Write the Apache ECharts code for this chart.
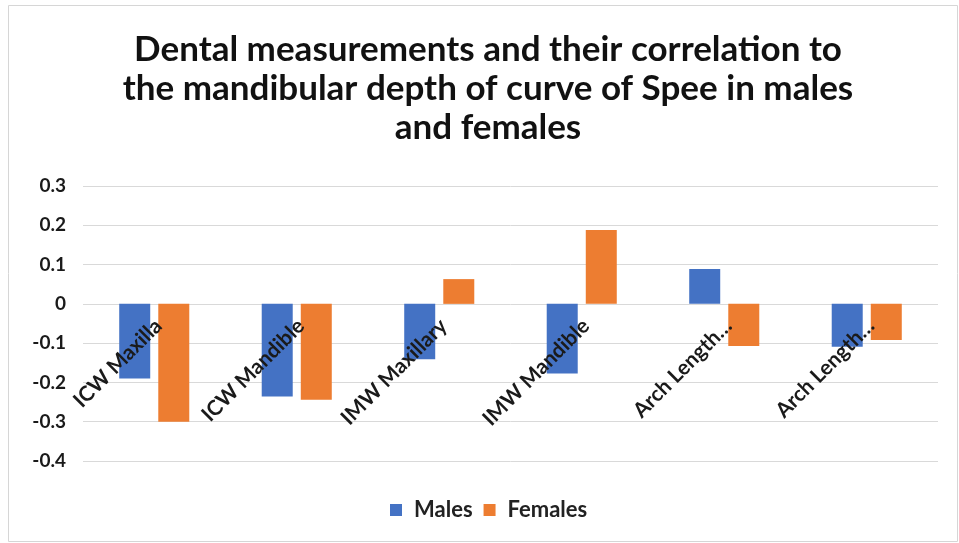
<!DOCTYPE html>
<html>
<head>
<meta charset="utf-8">
<style>
  html, body { margin: 0; padding: 0; background: #ffffff; }
  #chart { width: 959px; height: 543px; }
</style>
<script src="https://cdn.jsdelivr.net/npm/echarts@6/dist/echarts.min.js"></script>
</head>
<body>
<div id="chart"></div>
<script>
// Correlation of dental measurements with mandibular curve of Spee depth
const categories = ['ICW Maxilla', 'ICW Mandible', 'IMW Maxillary', 'IMW Mandible', 'Arch Length…', 'Arch Length…'];
const males = [-0.19, -0.236, -0.141, -0.177, 0.089, -0.109];
const females = [-0.30, -0.244, 0.063, 0.188, -0.107, -0.092];
const yTicks = { min: -0.4, max: 0.3, step: 0.1 };

const FONT = 'Lato';
const W = 959, H = 543;
const grid = { left: 83, right: 21, top: 186, bottom: 82 };
// place the category axis (and its labels) on the zero line
const plotH = H - grid.top - grid.bottom;
const zeroOffset = -plotH * (0 - yTicks.min) / (yTicks.max - yTicks.min);

const chart = echarts.init(document.getElementById('chart'), null, { renderer: 'canvas' });

chart.setOption({
  backgroundColor: '#ffffff',
  animation: false,
  color: ['#4472C4', '#ED7D31'],
  title: {
    text: 'Dental measurements and their correlation to\nthe mandibular depth of curve of Spee in males\nand females',
    left: 483,
    textAlign: 'center',
    top: 25,
    textStyle: {
      fontFamily: FONT,
      fontWeight: 'bold',
      fontSize: 35,
      lineHeight: 39,
      color: '#111111'
    }
  },
  legend: {
    bottom: 17,
    left: 385,
    padding: [5, 5, 5, 5],
    itemWidth: 12,
    itemHeight: 12,
    itemGap: 11,
    icon: 'rect',
    textStyle: {
      fontFamily: FONT, fontWeight: 'bold', fontSize: 22, color: '#222222',
      padding: [0, 0, 0, 7]
    },
    data: ['Males', 'Females']
  },
  grid: Object.assign({ outerBoundsMode: 'none', containLabel: false }, grid),
  xAxis: {
    type: 'category',
    data: categories,
    z: 10,
    offset: zeroOffset,
    axisLine: { show: false, onZero: false },
    axisTick: { show: false },
    axisLabel: {
      rotate: 45,
      margin: 23,
      interval: 0,
      padding: [0, -6, 0, 0],
      fontFamily: FONT,
      fontWeight: 'bold',
      fontSize: 21,
      color: '#1a1a1a'
    }
  },
  yAxis: {
    type: 'value',
    min: yTicks.min,
    max: yTicks.max,
    interval: yTicks.step,
    axisLine: { show: false },
    axisTick: { show: false },
    splitLine: { lineStyle: { color: '#d9d9d9', width: 1 } },
    axisLabel: {
      margin: 17,
      fontFamily: FONT,
      fontWeight: 'bold',
      fontSize: 19,
      color: '#1a1a1a',
      formatter: v => String(Math.round(v * 10) / 10)
    }
  },
  series: [
    { name: 'Males', type: 'bar', data: males, barWidth: 31, barGap: '26%' },
    { name: 'Females', type: 'bar', data: females, barWidth: 31, barGap: '26%' }
  ],
  graphic: [{
    type: 'rect',
    shape: { x: 8.5, y: 5.5, width: 949, height: 536 },
    style: { fill: 'none', stroke: '#d6d6d6', lineWidth: 1 },
    silent: true,
    z: -1
  }]
});
</script>
</body>
</html>
